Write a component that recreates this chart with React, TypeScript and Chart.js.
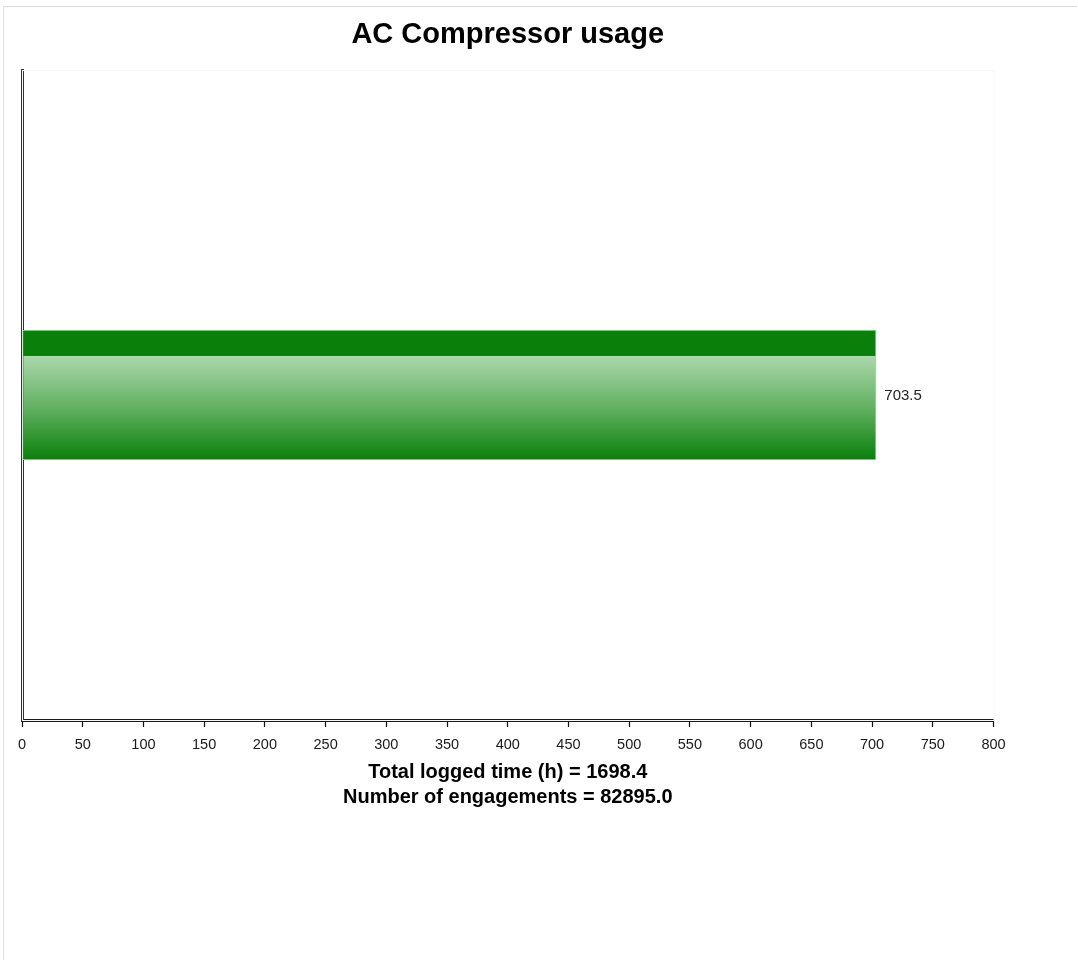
import React, { useEffect, useRef } from 'react';
import { Chart, registerables } from 'chart.js';

Chart.register(...registerables);

// ---- data ----
const chartTitle = 'AC Compressor usage';
const categories = ['AC Compressor'];
const usageHours = [703.5];
const xMin = 0;
const xMax = 800;
const xStep = 50;
const footerLines = ['Total logged time (h) = 1698.4', 'Number of engagements = 82895.0'];

// ---- styles ----
const FONT = 'Arial, "Liberation Sans", sans-serif';
const DARK_GREEN = 'rgb(9,128,9)';
const LIGHT_GREEN = 'rgb(172,216,172)';
const MID_GREEN = 'rgb(98,176,98)';
const BAR_FRACTION = 0.2;

const valueLabelPlugin = {
  id: 'valueLabels',
  afterDatasetsDraw(chart: any) {
    const ctx = chart.ctx;
    chart.data.datasets.forEach((ds: any, di: number) => {
      const meta = chart.getDatasetMeta(di);
      meta.data.forEach((bar: any, i: number) => {
        ctx.save();
        ctx.font = `15px ${FONT}`;
        ctx.fillStyle = '#222';
        ctx.textAlign = 'left';
        ctx.textBaseline = 'middle';
        ctx.fillText(String(ds.data[i]), bar.x + 8, bar.y + 1);
        ctx.restore();
      });
    });
  },
};

const frameBorderPlugin = {
  id: 'frameBorder',
  beforeDatasetsDraw(chart: any) {
    const { ctx, chartArea } = chart;
    ctx.save();
    ctx.strokeStyle = '#f7f7f7';
    ctx.lineWidth = 1;
    ctx.strokeRect(chartArea.left + 0.5, chartArea.top + 0.5, chartArea.right - chartArea.left, chartArea.bottom - chartArea.top);
    ctx.restore();
  },
};

export default function App() {
  const canvasRef = useRef<HTMLCanvasElement | null>(null);

  useEffect(() => {
    if (!canvasRef.current) return;
    const chart = new Chart(canvasRef.current, {
      type: 'bar',
      data: {
        labels: categories,
        datasets: [
          {
            label: 'Usage (h)',
            data: usageHours,
            borderColor: 'rgb(125,196,125)',
            borderWidth: 1,
            borderSkipped: false,
            barPercentage: 1,
            categoryPercentage: BAR_FRACTION,
            backgroundColor: (c: any) => {
              const ch = c.chart;
              const area = ch.chartArea;
              const ys = ch.scales && ch.scales.y;
              if (!area || !ys) return DARK_GREEN;
              const center = ys.getPixelForValue(c.dataIndex);
              const thick = ((area.bottom - area.top) / categories.length) * BAR_FRACTION;
              const g = ch.ctx.createLinearGradient(0, center - thick / 2, 0, center + thick / 2);
              g.addColorStop(0, DARK_GREEN);
              g.addColorStop(0.196, DARK_GREEN);
              g.addColorStop(0.2, LIGHT_GREEN);
              g.addColorStop(0.6, MID_GREEN);
              g.addColorStop(1, DARK_GREEN);
              return g;
            },
          },
        ],
      },
      options: {
        indexAxis: 'y',
        responsive: false,
        animation: false,
        events: [],
        layout: { padding: { top: 0, left: 22, right: 84.5, bottom: 150.5 } },
        plugins: {
          legend: { display: false },
          tooltip: { enabled: false },
          title: {
            display: true,
            text: chartTitle,
            color: '#000',
            font: { family: FONT, size: 29, weight: 'bold', lineHeight: '30px' },
            padding: { top: 20, bottom: 20 },
          },
        },
        scales: {
          x: {
            type: 'linear',
            min: xMin,
            max: xMax,
            z: 1,
            ticks: {
              stepSize: xStep,
              color: '#1a1a1a',
              font: { family: FONT, size: 14.5 },
              padding: 9,
              maxRotation: 0,
              autoSkip: false,
            },
            grid: {
              drawOnChartArea: false,
              drawTicks: true,
              tickLength: 7,
              tickColor: '#111',
              tickWidth: 1.2,
              color: '#111',
            },
            border: { display: true, color: '#1a1a1a', width: 3 },
            title: {
              display: true,
              text: footerLines,
              color: '#000',
              font: { family: FONT, size: 20, weight: 'bold', lineHeight: '25px' },
              padding: { top: 0, bottom: 0 },
            },
            afterFit(scale: any) {
              scale.height = 89.5;
            },
          },
          y: {
            type: 'category',
            z: 1,
            ticks: { display: false },
            grid: { display: false, drawTicks: false },
            border: { display: true, color: '#333', width: 3 },
            afterFit(scale: any) {
              scale.width = 0;
            },
          },
        },
      } as any,
      plugins: [valueLabelPlugin, frameBorderPlugin],
    });
    return () => chart.destroy();
  }, []);

  return (
    <div style={{ position: 'absolute', left: 0, top: 0, width: 1078, height: 960, background: '#fff' }}>
      <div
        style={{
          position: 'absolute',
          left: 3,
          top: 6,
          width: 1074,
          height: 954,
          borderTop: '1px solid #dcdcdc',
          borderLeft: '1px solid #e2e2e2',
          boxSizing: 'border-box',
        }}
      />
      <canvas
        ref={canvasRef}
        width={1078}
        height={960}
        style={{ position: 'absolute', left: 0, top: 0, width: 1078, height: 960, display: 'block' }}
      />
    </div>
  );
}
